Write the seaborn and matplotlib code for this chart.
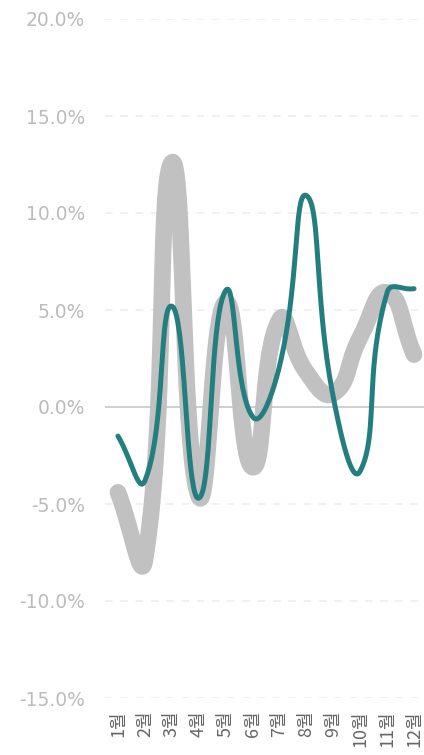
import numpy as np
import pandas as pd
import matplotlib.pyplot as plt
import seaborn as sns

# monthly values (%)
months = ["1월", "2월", "3월", "4월", "5월", "6월", "7월", "8월", "9월", "10월", "11월", "12월"]
gray_vals = [-4.4, -7.9, 12.6, -4.6, 5.4, -3.1, 4.5, 1.8, 0.7, 3.6, 5.9, 2.7]
teal_vals = [-1.5, -3.8, 5.2, -4.7, 6.0, -0.5, 2.1, 10.9, 0.5, -3.3, 5.9, 6.1]
y_ticks = [-15, -10, -5, 0, 5, 10, 15, 20]

PX_X, PX_Y = 26.9, 19.4  # rough pixel scale, used for curve smoothing


def smooth_curve(yv, smooth=0.5, n=40):
    # bezier smoothing through each point (echarts-like)
    pts = np.column_stack([np.arange(len(yv)) * PX_X, np.asarray(yv, float) * PX_Y])
    N = len(pts)
    cps = []
    for i in range(N):
        prev = pts[i - 1] if i > 0 else pts[i]
        nxt = pts[i + 1] if i < N - 1 else pts[i]
        v = (nxt - prev) * smooth
        d0 = np.hypot(*(pts[i] - prev))
        d1 = np.hypot(*(nxt - pts[i]))
        s = d0 + d1
        if s:
            d0, d1 = d0 / s, d1 / s
        cps.append((pts[i] - v * d0, pts[i] + v * d1))
    out = [pts[0]]
    t = np.linspace(0, 1, n)[1:, None]
    for i in range(N - 1):
        p0, c1, c2, p3 = pts[i], cps[i][1], cps[i + 1][0], pts[i + 1]
        seg = (1 - t) ** 3 * p0 + 3 * (1 - t) ** 2 * t * c1 + 3 * (1 - t) * t ** 2 * c2 + t ** 3 * p3
        out.extend(seg)
    out = np.array(out)
    return out[:, 0] / PX_X, out[:, 1] / PX_Y


sns.set_style("white")
plt.rcParams["font.family"] = ["Noto Sans CJK KR", "DejaVu Sans"]

fig = plt.figure(figsize=(4.24, 7.55), dpi=100)
ax = fig.add_axes([104.5 / 424, 57 / 755, 323 / 424, 679 / 755])

gx, gy = smooth_curve(gray_vals)
tx, ty = smooth_curve(teal_vals)
gray_df = pd.DataFrame({"x": gx, "y": gy})
teal_df = pd.DataFrame({"x": tx, "y": ty})

for yt in y_ticks:
    if yt == 0:
        ax.axhline(0, color="#cccccc", lw=1.3, zorder=1)
    else:
        ax.axhline(yt, color="#ececec", lw=1.1, ls=(0, (5, 5)), zorder=1)

sns.lineplot(data=gray_df, x="x", y="y", ax=ax, color="#c1c1c1", lw=12,
             sort=False, solid_capstyle="round", solid_joinstyle="round", zorder=2)
sns.lineplot(data=teal_df, x="x", y="y", ax=ax, color="#237e80", lw=3.6,
             sort=False, solid_capstyle="round", solid_joinstyle="round", zorder=3)

ax.set_xlim(-0.5, len(months) - 0.5)
ax.set_ylim(-15, 20)
ax.set_xticks(range(len(months)))
ax.set_xticklabels(months, rotation=90, color="#666666", fontsize=13, va="top")
ax.set_yticks(y_ticks)
ax.set_yticklabels([f"{v:.1f}%" for v in y_ticks], color="#bcbcbc", fontsize=13.5,
                   family=["DejaVu Sans"])
ax.tick_params(axis="both", length=0)
ax.tick_params(axis="y", pad=14)
ax.tick_params(axis="x", pad=9)
ax.set_xlabel("")
ax.set_ylabel("")
for sp in ax.spines.values():
    sp.set_visible(False)
ax.grid(False)

fig.savefig("out.png", dpi=100)
